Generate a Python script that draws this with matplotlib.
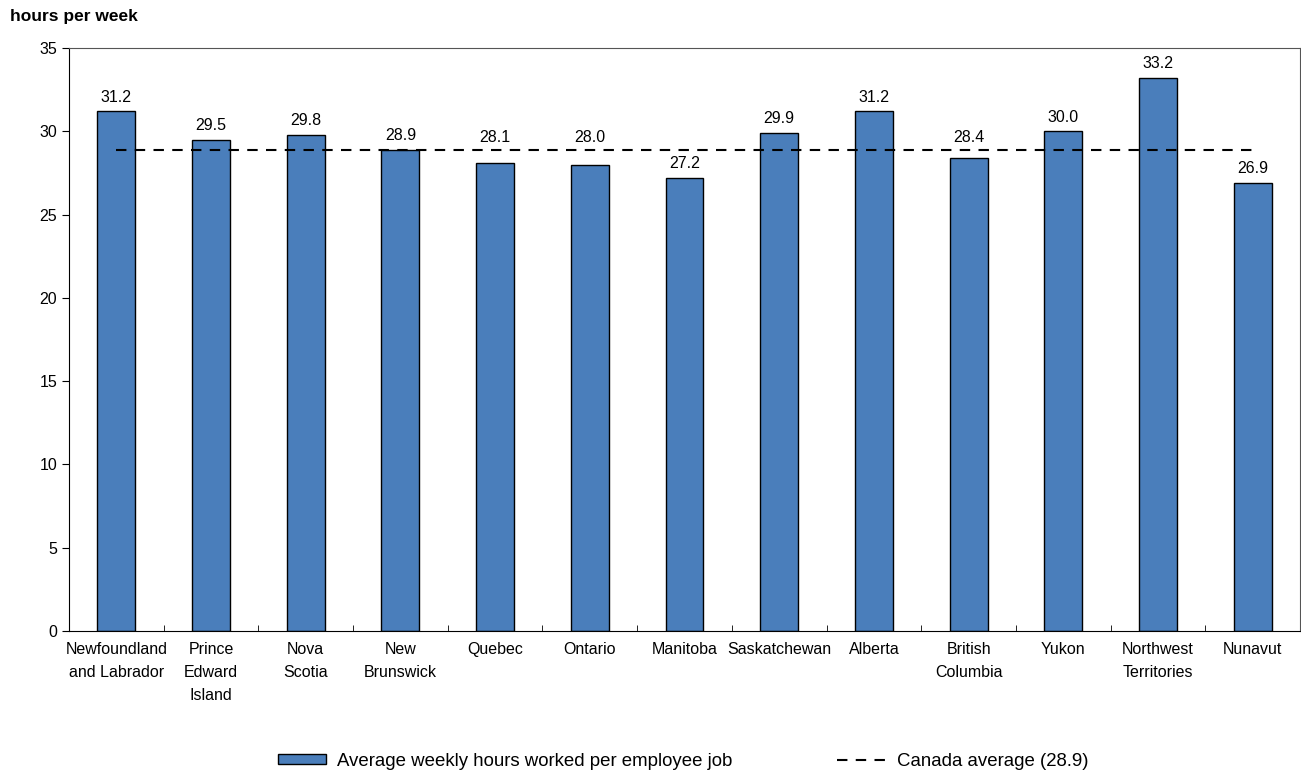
import matplotlib.pyplot as plt
import numpy as np

plt.rcParams['font.family'] = ['Liberation Sans', 'DejaVu Sans']

provinces = ['Newfoundland\nand Labrador', 'Prince\nEdward\nIsland', 'Nova\nScotia',
             'New\nBrunswick', 'Quebec', 'Ontario', 'Manitoba', 'Saskatchewan',
             'Alberta', 'British\nColumbia', 'Yukon', 'Northwest\nTerritories', 'Nunavut']
hours = [31.2, 29.5, 29.8, 28.9, 28.1, 28.0, 27.2, 29.9, 31.2, 28.4, 30.0, 33.2, 26.9]
canada_avg = 28.9

fig = plt.figure(figsize=(13.01, 7.70), dpi=100)
ax = fig.add_axes([69 / 1301, 1 - 631 / 770, 1231 / 1301, 583 / 770])

x = np.arange(len(provinces))
bars = ax.bar(x, hours, width=0.4, color='#4a7ebb', edgecolor='black', linewidth=1,
              label='Average weekly hours worked per employee job', zorder=2)
line, = ax.plot([x[0], x[-1]], [canada_avg, canada_avg], color='black',
                linestyle=(0, (5, 4)), linewidth=1.5, label='Canada average (28.9)', zorder=3)

# value labels, moved above the average line when they would sit on it
for xi, h in zip(x, hours):
    y = h + 0.85
    if abs(y - canada_avg) < 0.6:
        y = canada_avg + 0.75
    ax.text(xi, y, f'{h:.1f}', ha='center', va='center', fontsize=11.5)

ax.set_xlim(-0.5, len(provinces) - 0.5)
ax.set_ylim(0, 35)
ax.set_yticks(range(0, 36, 5))
ax.set_xticks(x)
ax.set_xticklabels(provinces, fontsize=11.5, linespacing=1.65)
ax.tick_params(axis='x', length=0, pad=8)
ax.set_xticks(np.arange(0.5, len(provinces) - 1, 1), minor=True)
ax.tick_params(axis='x', which='minor', direction='in', length=4)
ax.tick_params(axis='y', labelsize=11.5, length=5, direction='out')

for side in ['top', 'right']:
    ax.spines[side].set_color('#555555')
    ax.spines[side].set_linewidth(0.8)

fig.text(10 / 1301, 1 - 17 / 770, 'hours per week', fontsize=12.5, fontweight='bold',
         va='center', ha='left')

fig.legend(handles=[bars, line], loc='center', bbox_to_anchor=(0.525, 1 - 761 / 770),
           ncol=2, frameon=False, fontsize=13.4, handlelength=2.6, columnspacing=5.6,
           handletextpad=0.6, handleheight=0.5)

fig.savefig('out.png', dpi=100)
